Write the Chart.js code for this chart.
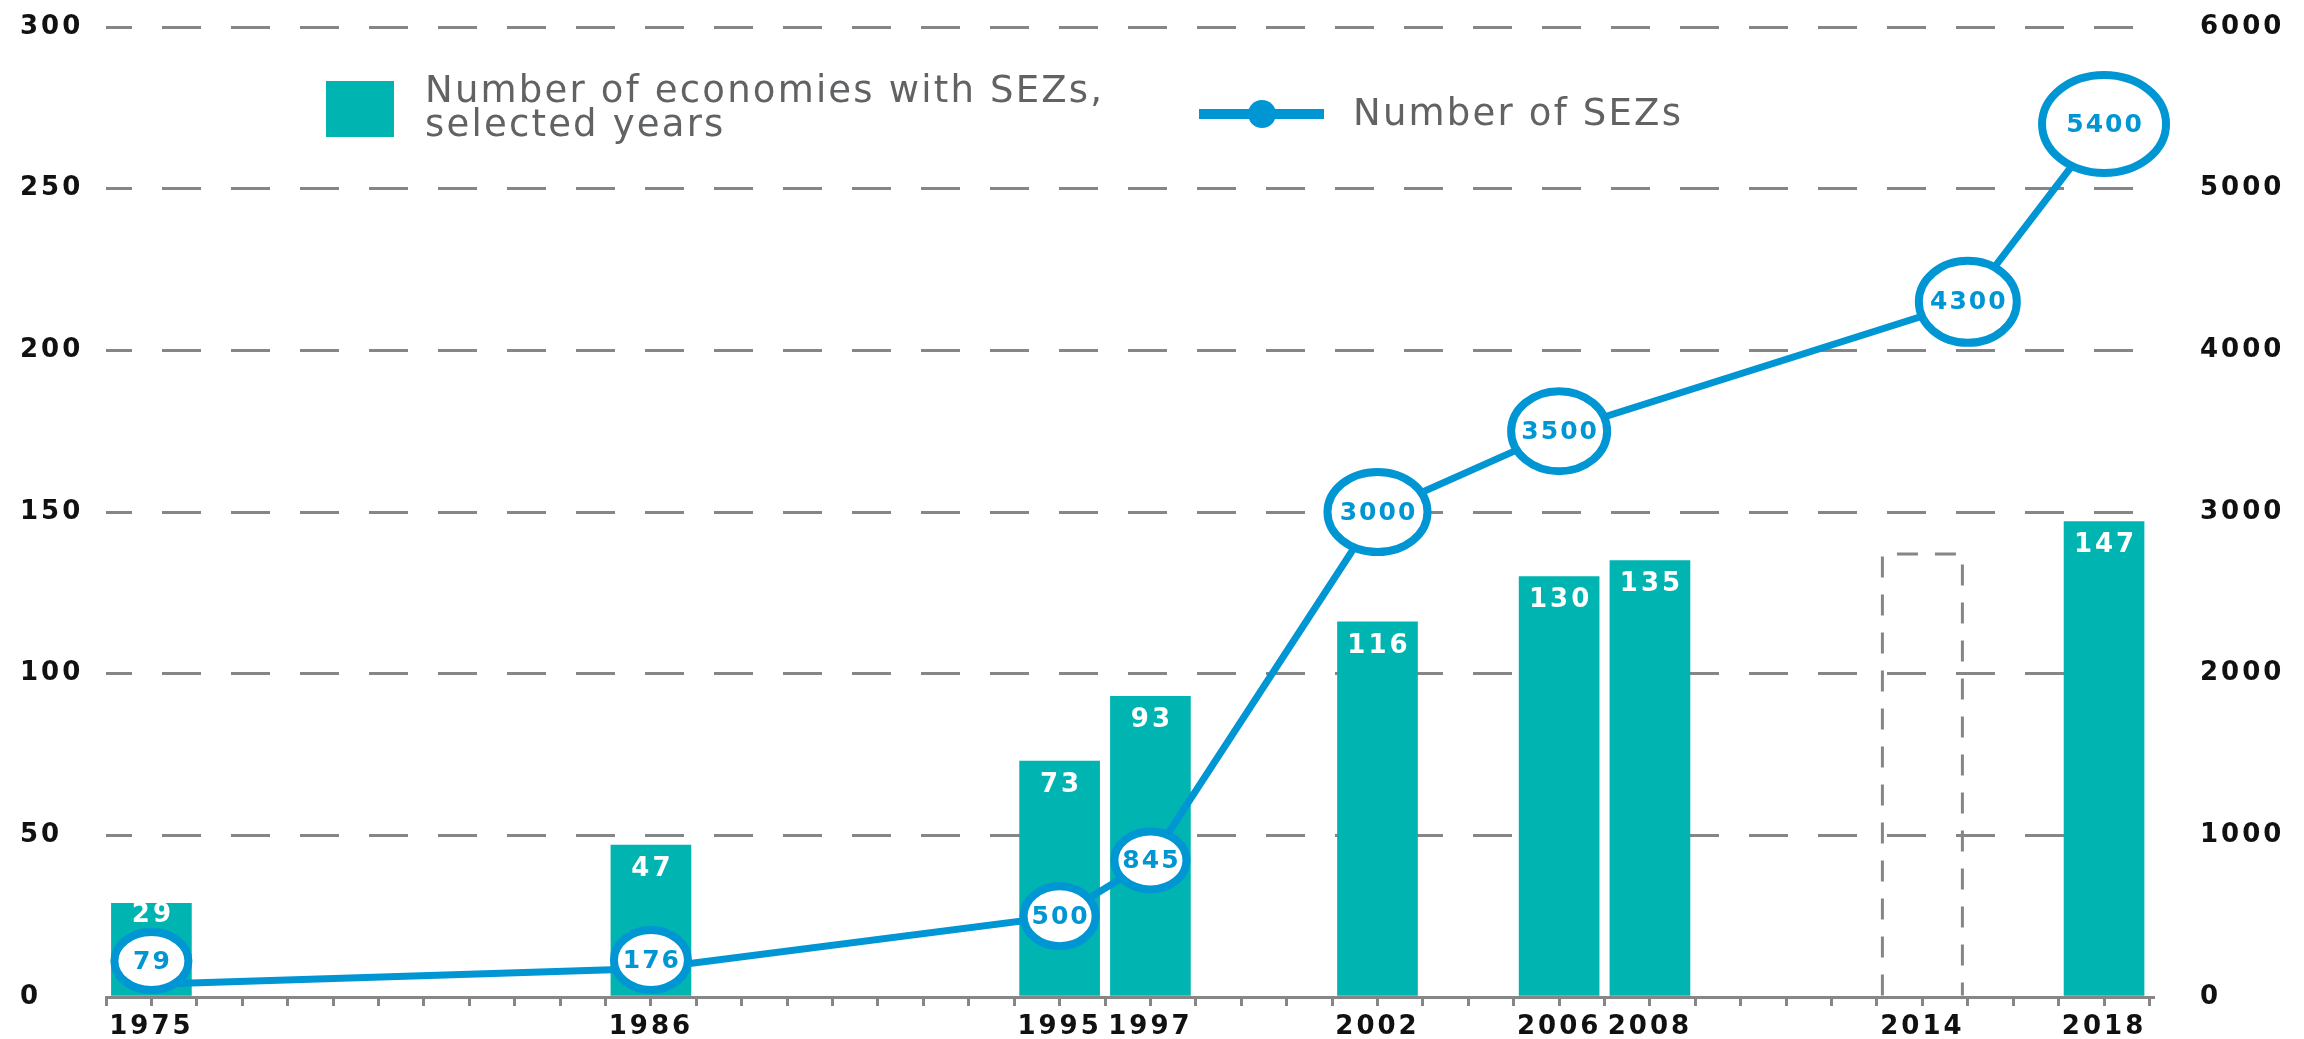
<!DOCTYPE html>
<html><head><meta charset="utf-8">
<script src="https://cdn.jsdelivr.net/npm/chart.js@4"></script>
<style>html,body{margin:0;padding:0;background:#fff}#wrap{width:2304px;height:1039px;position:relative}</style>
</head><body><div id="wrap"><canvas id="c"></canvas></div>
<script>
// ---- data ----
const barYears = [1975, 1986, 1995, 1997, 2002, 2006, 2008, 2018];
const economies = [29, 47, 73, 93, 116, 130, 135, 147];
const gapYears = [2014];
const gapValues = [137];
const sezYears = [1975, 1986, 1995, 1997, 2002, 2006, 2015, 2018];
const sezCounts = [79, 176, 500, 845, 3000, 3500, 4300, 5400];
const labeledYears = [1975, 1986, 1995, 1997, 2002, 2006, 2008, 2014, 2018];
const leftTicks = [0, 50, 100, 150, 200, 250, 300];
const rightTicks = [0, 1000, 2000, 3000, 4000, 5000, 6000];
const legendBarLines = ['Number of economies with SEZs,', 'selected years'];
const legendLineText = 'Number of SEZs';

// ---- styles ----
const TEAL = '#00B4B1';
const BLUE = '#0095D3';
const GRID = '#868686';
const ellipseSizes = [[41,33],[41,34],[40,34],[40,33],[54,44],[52,44],[53,45],[66,53]];

const decor = {
  id: 'decor',
  beforeDraw(chart) { chart.ctx.letterSpacing = '3px'; },
  afterDatasetsDraw(chart) {
    const ctx = chart.ctx, area = chart.chartArea;
    // dashed outline bar (2014)
    ctx.save();
    ctx.letterSpacing = '0px';
    chart.getDatasetMeta(1).data.forEach(el => {
      const p = el.getProps(['x','y','base','width'], true);
      const l = p.x - p.width/2, r = p.x + p.width/2;
      ctx.strokeStyle = GRID; ctx.lineWidth = 3; ctx.setLineDash([21,17]);
      ctx.beginPath(); ctx.moveTo(l, p.base); ctx.lineTo(l, p.y); ctx.lineTo(r, p.y); ctx.lineTo(r, p.base); ctx.stroke();
    });
    ctx.restore();
    // bar value labels
    ctx.save();
    ctx.letterSpacing = '3px';
    ctx.font = 'bold 26px "DejaVu Sans"';
    ctx.fillStyle = '#ffffff'; ctx.textAlign = 'center'; ctx.textBaseline = 'middle';
    chart.getDatasetMeta(0).data.forEach((el, i) => {
      const p = el.getProps(['x','y','base'], true);
      const ly = Math.min(p.y + 24, p.base - 80);
      ctx.fillText(String(economies[i]), p.x + 1.5, ly);
    });
    ctx.restore();
    // ellipse point labels
    ctx.save();
    chart.getDatasetMeta(2).data.forEach((el, i) => {
      const [rx, ry] = ellipseSizes[i];
      const sw = 8;
      const cy = Math.min(el.y, area.bottom - ry - 3);
      ctx.beginPath();
      ctx.ellipse(el.x, cy, rx - sw/2, ry - sw/2, 0, 0, Math.PI*2);
      ctx.fillStyle = '#ffffff'; ctx.fill();
      ctx.lineWidth = sw; ctx.strokeStyle = BLUE; ctx.stroke();
      ctx.fillStyle = BLUE; ctx.font = 'bold 25px "DejaVu Sans"'; ctx.letterSpacing = '2px';
      ctx.textAlign = 'center'; ctx.textBaseline = 'middle';
      ctx.fillText(String(sezCounts[i]), el.x + 1, cy + 1);
    });
    ctx.restore();
  },
  afterDraw(chart) {
    const ctx = chart.ctx;
    ctx.save();
    ctx.fillStyle = TEAL; ctx.fillRect(326, 81, 68, 56);
    ctx.font = '37px "DejaVu Sans"'; ctx.fillStyle = '#616264';
    ctx.textAlign = 'left'; ctx.textBaseline = 'alphabetic'; ctx.letterSpacing = '2.2px';
    ctx.fillText(legendBarLines[0], 425, 102);
    ctx.fillText(legendBarLines[1], 425, 136);
    ctx.strokeStyle = BLUE; ctx.lineWidth = 10;
    ctx.beginPath(); ctx.moveTo(1199, 114); ctx.lineTo(1324, 114); ctx.stroke();
    ctx.fillStyle = BLUE; ctx.beginPath(); ctx.arc(1262, 114, 14, 0, Math.PI*2); ctx.fill();
    ctx.fillStyle = '#616264';
    ctx.fillText(legendLineText, 1353, 125);
    ctx.restore();
  }
};

Chart.defaults.font.family = '"DejaVu Sans"';

new Chart(document.getElementById('c'), {
  type: 'bar',
  data: {
    datasets: [
      {
        type: 'bar', label: legendBarLines.join(' '),
        data: barYears.map((x, i) => ({x: x, y: economies[i]})),
        backgroundColor: TEAL, borderWidth: 0, barThickness: 80, grouped: false,
        xAxisID: 'x', yAxisID: 'y', order: 2
      },
      {
        type: 'bar', label: '2014',
        data: gapYears.map((x, i) => ({x: x, y: gapValues[i]})),
        backgroundColor: 'rgba(0,0,0,0)', borderWidth: 0, barThickness: 80, grouped: false,
        xAxisID: 'x', yAxisID: 'y', order: 3
      },
      {
        type: 'line', label: legendLineText,
        data: sezYears.map((x, i) => ({x: x, y: sezCounts[i]})),
        borderColor: BLUE, borderWidth: 7, pointRadius: 0, tension: 0, fill: false,
        xAxisID: 'x', yAxisID: 'y1', order: 0
      }
    ]
  },
  options: {
    responsive: true, maintainAspectRatio: false, animation: false, devicePixelRatio: 1,
    events: [],
    layout: { padding: { top: 27, left: 20, right: 0, bottom: 0 } },
    plugins: { legend: { display: false }, tooltip: { enabled: false } },
    scales: {
      x: {
        type: 'linear', position: 'bottom', min: 1974, max: 2019.1, offset: false,
        grid: { display: true, offset: false, drawOnChartArea: false, drawTicks: true, tickLength: 9, tickWidth: 3, tickColor: GRID },
        border: { display: true, color: GRID, width: 3 },
        ticks: {
          stepSize: 1, autoSkip: false, includeBounds: false, maxRotation: 0, padding: 6,
          color: '#111', font: { size: 26, weight: 'bold' },
          callback: v => labeledYears.includes(v) ? String(v) : ''
        },
        afterFit: s => { s.height = 42; }
      },
      y: {
        type: 'linear', position: 'left', min: leftTicks[0], max: leftTicks[leftTicks.length-1],
        grid: { drawTicks: false, lineWidth: 3, color: c => c.tick && c.tick.value === 0 ? 'rgba(0,0,0,0)' : GRID },
        border: { display: false, dash: [39, 30], dashOffset: 13 },
        ticks: { stepSize: 50, crossAlign: 'far', padding: 3, color: '#111', font: { size: 26, weight: 'bold' },
                 callback: v => leftTicks.includes(v) ? String(v) : '' },
        afterFit: s => { s.width = 86; }
      },
      y1: {
        type: 'linear', position: 'right', min: rightTicks[0], max: rightTicks[rightTicks.length-1],
        grid: { drawOnChartArea: false, drawTicks: true, tickLength: 46, tickColor: 'rgba(0,0,0,0)' },
        border: { display: false },
        ticks: { stepSize: 1000, padding: 0, color: '#111', font: { size: 26, weight: 'bold' },
                 callback: v => rightTicks.includes(v) ? String(v) : '' },
        afterFit: s => { s.width = 150; }
      }
    }
  },
  plugins: [decor]
});
</script>
</body></html>
